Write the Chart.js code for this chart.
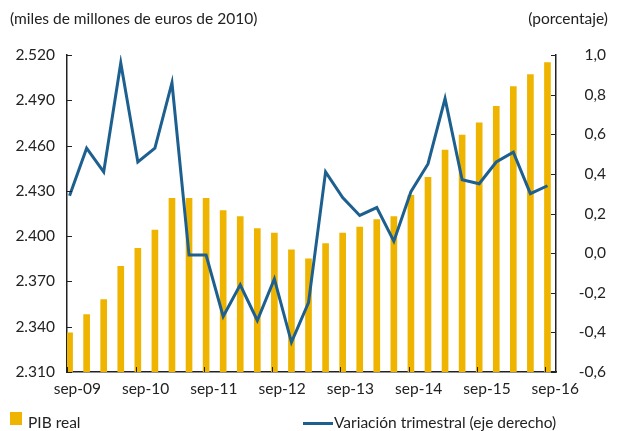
<!DOCTYPE html>
<html lang="es">
<head>
<meta charset="UTF-8">
<title>PIB real</title>
<script src="https://cdn.jsdelivr.net/npm/chart.js@4.4.0/dist/chart.umd.min.js"></script>
<style>
  html, body { margin: 0; padding: 0; background: #fff; }
  body { width: 618px; height: 431px; position: relative; overflow: hidden;
         font-family: "Lato", "Open Sans", sans-serif; color: #222; }
  #wrap { position: absolute; left: 0; top: 0; width: 618px; height: 431px; }
  .txt { position: absolute; font-size: 15.5px; white-space: nowrap; }
  .swatch { position: absolute; left: 10px; top: 412px; width: 12px; height: 13px; background: #efb400; }
  .lineKey { position: absolute; left: 303px; top: 422px; width: 30px; height: 3px; background: #1d6090; }
</style>
</head>
<body>
<div id="wrap"><canvas id="chart" width="618" height="431"></canvas></div>
<div class="txt" style="left:10px; top:9px;">(miles de millones de euros de 2010)</div>
<div class="txt" style="right:10px; top:9px;">(porcentaje)</div>
<div class="swatch"></div>
<div class="txt" style="left:28px; top:413px;">PIB real</div>
<div class="lineKey"></div>
<div class="txt" style="left:334px; top:413px;">Variación trimestral (eje derecho)</div>

<script>
// trimestres sep-09 .. sep-16
var quarters = ['sep-09','dic-09','mar-10','jun-10','sep-10','dic-10','mar-11','jun-11',
                'sep-11','dic-11','mar-12','jun-12','sep-12','dic-12','mar-13','jun-13',
                'sep-13','dic-13','mar-14','jun-14','sep-14','dic-14','mar-15','jun-15',
                'sep-15','dic-15','mar-16','jun-16','sep-16'];
var pibReal = [2.336, 2.348, 2.358, 2.380, 2.392, 2.404, 2.425, 2.425,
               2.425, 2.417, 2.413, 2.405, 2.402, 2.391, 2.385, 2.395,
               2.402, 2.406, 2.411, 2.413, 2.427, 2.439, 2.457, 2.467,
               2.475, 2.486, 2.499, 2.507, 2.515];
var variacion = [0.29, 0.53, 0.41, 0.96, 0.46, 0.53, 0.86, -0.01,
                 -0.01, -0.32, -0.16, -0.34, -0.13, -0.45, -0.25, 0.41,
                 0.28, 0.19, 0.23, 0.06, 0.31, 0.45, 0.78, 0.37,
                 0.35, 0.46, 0.51, 0.30, 0.34];
var leftTicks = [2.310, 2.340, 2.370, 2.400, 2.430, 2.460, 2.490, 2.520];
var rightTicks = [-0.6, -0.4, -0.2, 0.0, 0.2, 0.4, 0.6, 0.8, 1.0];
var xLabelIdx = [0, 4, 8, 12, 16, 20, 24, 28];

var FONT = { family: 'Lato', size: 15.5 };
var INK = '#222';

// inward tick marks
var innerTicks = {
  id: 'innerTicks',
  afterDatasetsDraw: function(chart) {
    var c = chart.ctx, a = chart.chartArea;
    var L = chart.scales.y, R = chart.scales.y2, X = chart.scales.x;
    c.save();
    c.strokeStyle = INK;
    c.lineWidth = 1;
    c.beginPath();
    L.ticks.forEach(function(t) {
      var y = Math.round(L.getPixelForValue(t.value)) + 0.5;
      c.moveTo(a.left, y); c.lineTo(a.left + 5, y);
    });
    R.ticks.forEach(function(t) {
      var y = Math.round(R.getPixelForValue(t.value)) + 0.5;
      c.moveTo(a.right, y); c.lineTo(a.right - 5, y);
    });
    X.ticks.forEach(function(t) {
      var x = Math.round(X.getPixelForValue(t.value)) + 0.5;
      c.moveTo(x, a.bottom); c.lineTo(x, a.bottom - 5);
    });
    c.stroke();
    c.restore();
  }
};

new Chart(document.getElementById('chart'), {
  data: {
    datasets: [
      {
        type: 'line',
        label: 'Variación trimestral (eje derecho)',
        data: variacion.map(function(v, i) { return { x: i, y: v }; }),
        yAxisID: 'y2',
        borderColor: '#1d6090',
        borderWidth: 3,
        pointRadius: 0,
        tension: 0,
        order: 0
      },
      {
        type: 'bar',
        label: 'PIB real',
        data: pibReal.map(function(v, i) { return { x: i, y: v }; }),
        yAxisID: 'y',
        backgroundColor: '#efb400',
        barThickness: 6,
        order: 1
      }
    ]
  },
  options: {
    responsive: false,
    animation: false,
    layout: { padding: { left: 0, right: 12, top: 55, bottom: 29 } },
    plugins: { legend: { display: false }, tooltip: { enabled: false } },
    scales: {
      x: {
        type: 'linear',
        offset: false,
        min: -0.15,
        max: 28.5,
        grid: { display: false, drawTicks: false },
        border: { display: true, color: INK, width: 1.5 },
        afterBuildTicks: function(s) {
          s.ticks = xLabelIdx.map(function(i) { return { value: i - 0.13 }; });
        },
        afterFit: function(s) { s.height = 30; },
        ticks: {
          font: FONT, color: INK, padding: 8, labelOffset: 10, maxRotation: 0,
          callback: function(v) { return quarters[Math.round(v)]; }
        }
      },
      y: {
        position: 'left',
        min: 2.310,
        max: 2.520,
        grid: { display: false, drawTicks: false },
        border: { display: true, color: INK, width: 1.5 },
        afterBuildTicks: function(s) {
          s.ticks = leftTicks.map(function(v) { return { value: v }; });
        },
        afterFit: function(s) { s.width = 67; },
        ticks: {
          font: FONT, color: INK, padding: 12,
          callback: function(v) { return v.toFixed(3); }
        }
      },
      y2: {
        position: 'right',
        min: -0.6,
        max: 1.0,
        grid: { display: false, drawTicks: false },
        border: { display: true, color: INK, width: 1.5 },
        afterBuildTicks: function(s) {
          s.ticks = rightTicks.map(function(v) { return { value: v }; });
        },
        afterFit: function(s) { s.width = 50; },
        ticks: {
          font: FONT, color: INK, padding: 12, crossAlign: 'far',
          callback: function(v) { return v.toFixed(1).replace('.', ','); }
        }
      }
    }
  },
  plugins: [innerTicks]
});
</script>
</body>
</html>
